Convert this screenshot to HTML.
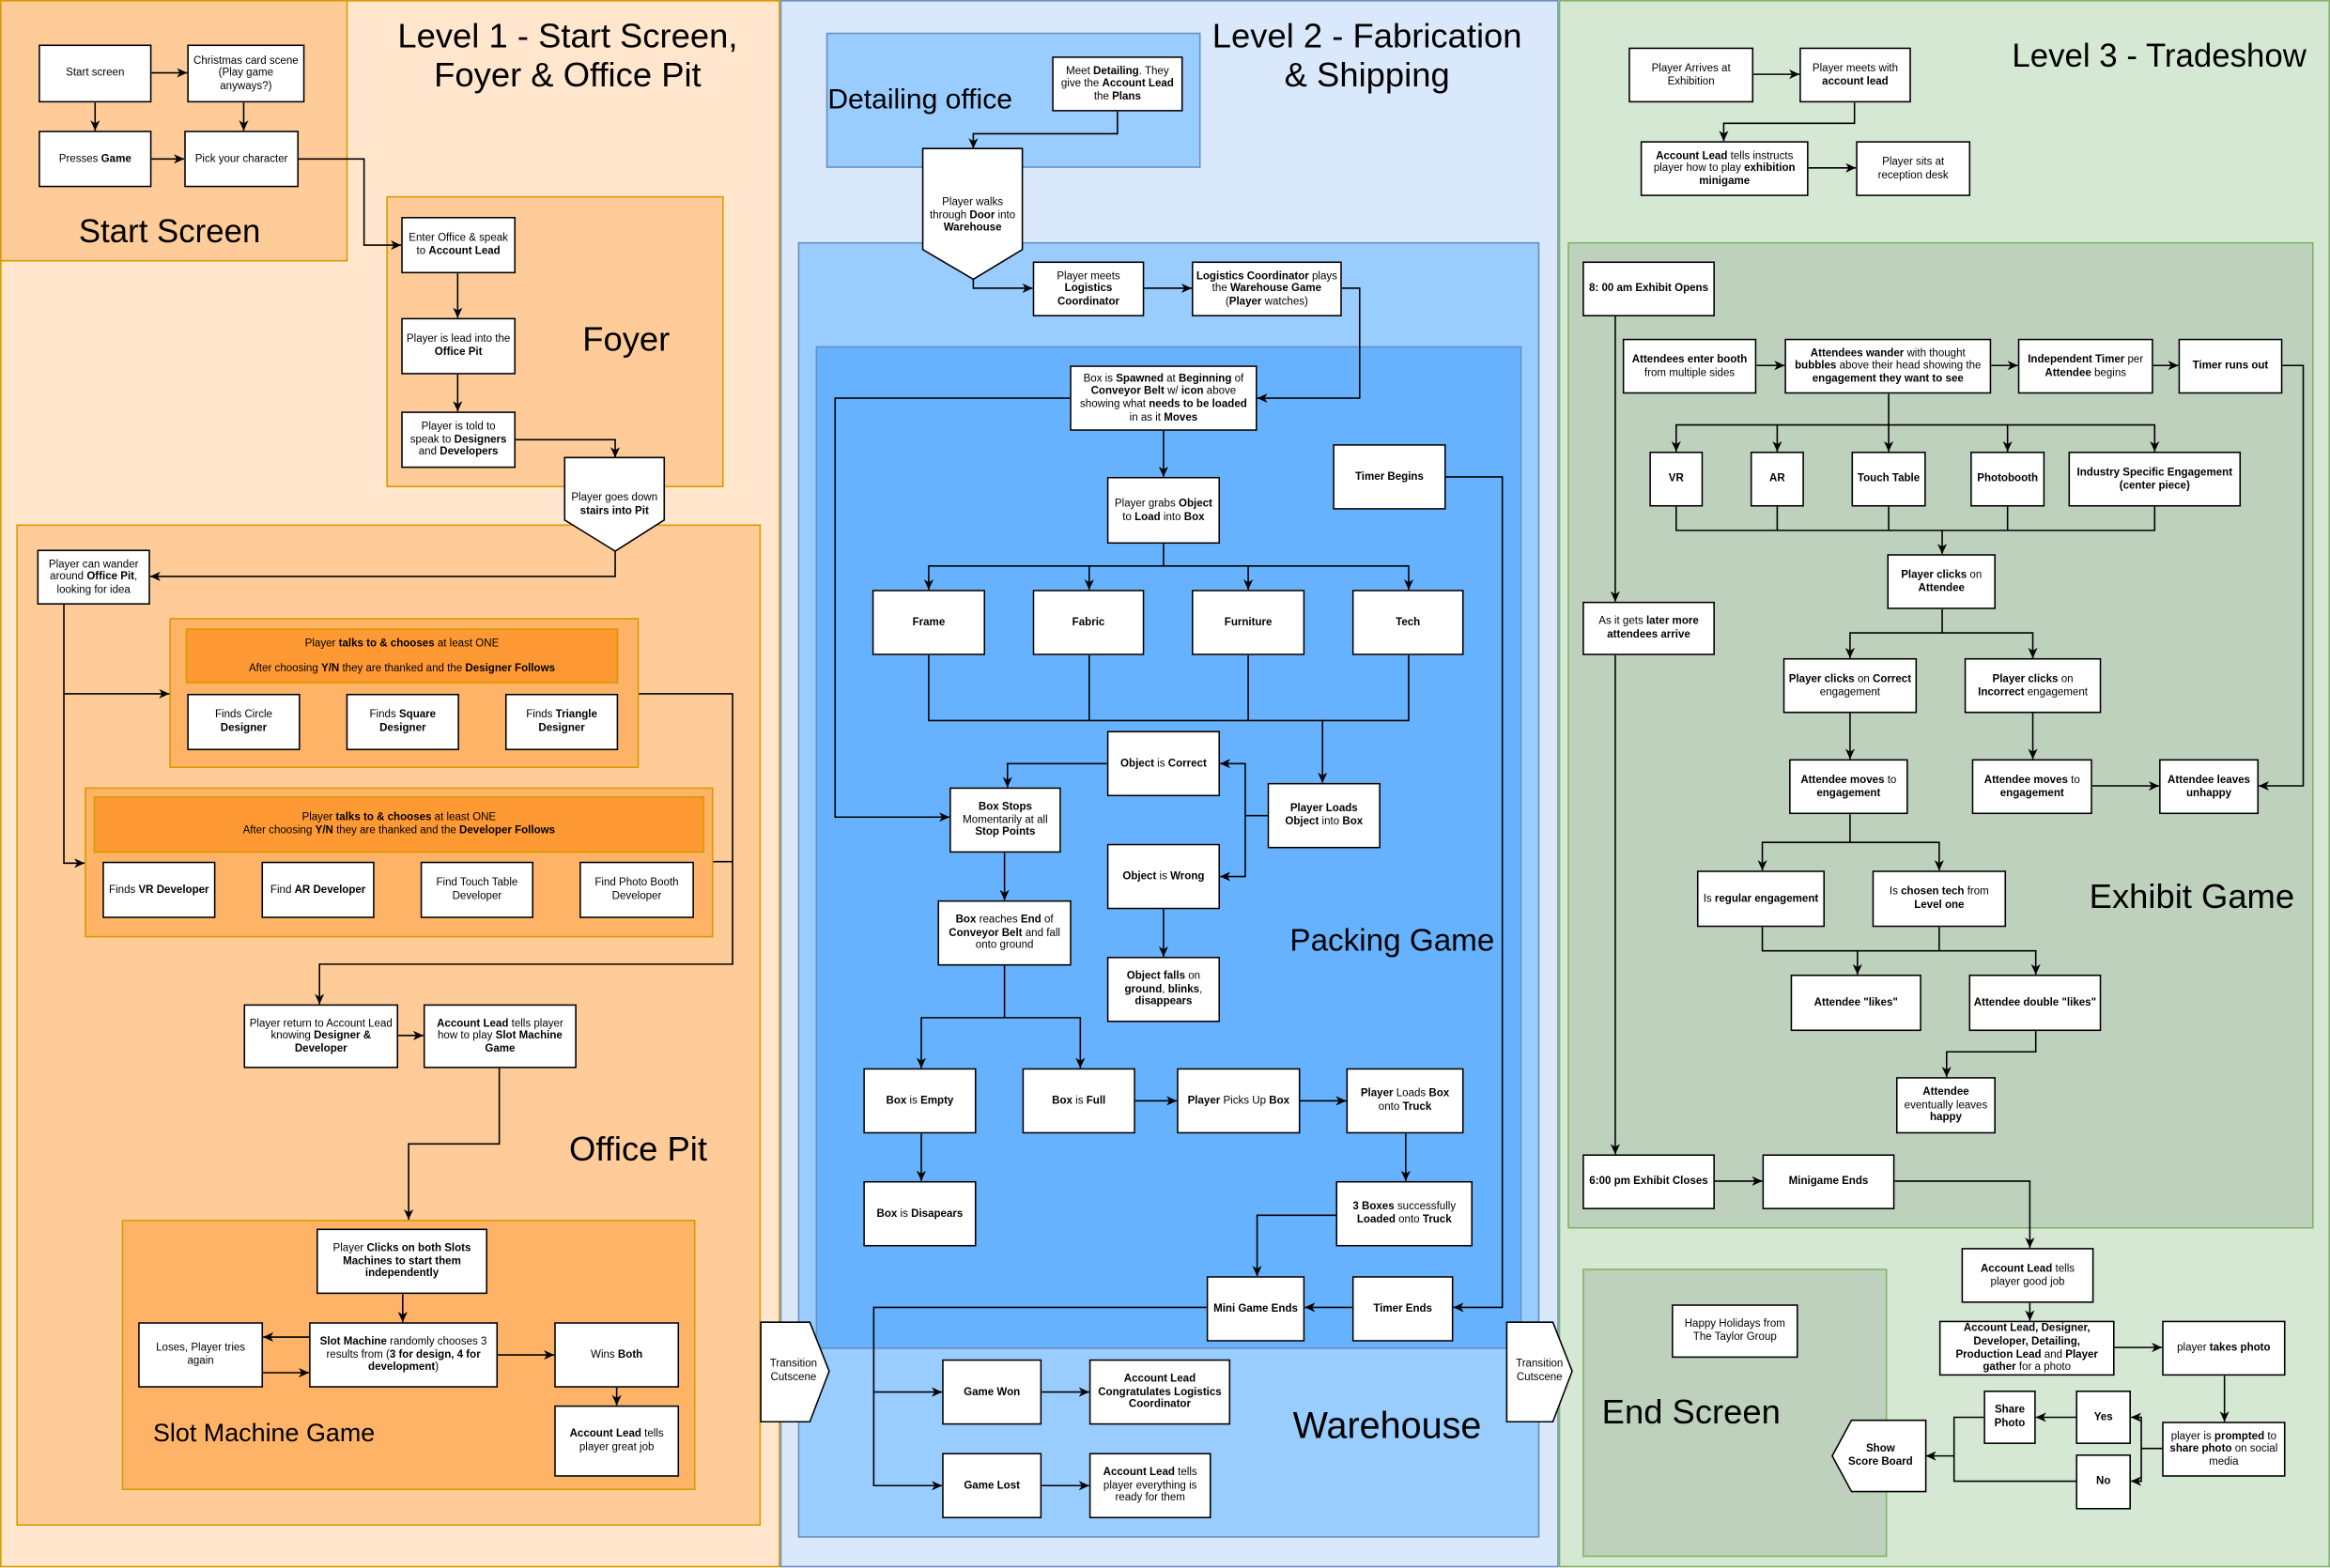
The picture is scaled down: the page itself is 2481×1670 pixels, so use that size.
<!DOCTYPE html>
<html><head><meta charset="utf-8">
<style>
html,body{margin:0;padding:0;background:#fff;}
body{width:2481px;height:1670px;overflow:hidden;}
#c{position:absolute;left:0;top:0;width:1568px;height:1055px;transform:scale(1.58227);transform-origin:0 0;font-family:"Liberation Sans",sans-serif;}
.r{position:absolute;box-sizing:border-box;}
.b{position:absolute;box-sizing:border-box;background:#fff;border:1px solid #000;display:flex;align-items:center;justify-content:center;text-align:center;font-size:7.3px;line-height:1.18;padding:1px 2px;color:#000;}
.b>span,.tc>span{display:block;width:100%;}
.t{position:absolute;white-space:nowrap;color:#000;line-height:1.15;}
.tc{position:absolute;text-align:center;font-size:7.3px;line-height:1.18;display:flex;align-items:center;justify-content:center;}
b{font-weight:bold;}
svg{position:absolute;left:0;top:0;}
</style></head><body><div id="c">
<div class="r" style="left:0;top:0;width:525px;height:1055px;background:#ffe6cc;border:1px solid #d79b00"></div>
<div class="r" style="left:525px;top:0;width:524px;height:1055px;background:#dae8fc;border:1px solid #6c8ebf"></div>
<div class="r" style="left:1049px;top:0;width:519px;height:1055px;background:#d5e8d4;border:1px solid #82b366"></div>

<div class="r" style="left:0;top:0;width:234px;height:176px;background:#ffcc99;border:1px solid #d79b00"></div>
<div class="r" style="left:260px;top:132px;width:227px;height:196px;background:#ffcc99;border:1px solid #d79b00"></div>
<div class="r" style="left:11px;top:353px;width:501px;height:674px;background:#ffcc99;border:1px solid #d79b00"></div>
<div class="r" style="left:114px;top:416px;width:316px;height:101px;background:#ffb366;border:1px solid #d79b00"></div>
<div class="r" style="left:125px;top:423px;width:291px;height:37px;background:#ff9933;border:1px solid #d79b00"></div>
<div class="r" style="left:57px;top:530px;width:423px;height:101px;background:#ffb366;border:1px solid #d79b00"></div>
<div class="r" style="left:63px;top:536px;width:411px;height:38px;background:#ff9933;border:1px solid #d79b00"></div>
<div class="r" style="left:82px;top:821px;width:386px;height:182px;background:#ffb366;border:1px solid #d79b00"></div>

<div class="r" style="left:556px;top:22px;width:252px;height:91px;background:#99ccff;border:1px solid #6c8ebf"></div>
<div class="r" style="left:537px;top:163px;width:499px;height:872px;background:#99ccff;border:1px solid #6c8ebf"></div>
<div class="r" style="left:549px;top:233px;width:475px;height:675px;background:#66b2ff;border:1px solid #6c8ebf"></div>

<div class="r" style="left:1055px;top:163px;width:502px;height:664px;background:#bdd1bc;border:1px solid #82b366"></div>
<div class="r" style="left:1065px;top:854px;width:205px;height:194px;background:#bdd1bc;border:1px solid #82b366"></div>

<div class="t" style="left:240px;top:11px;width:284px;text-align:center;font-size:23px;">Level 1 - Start Screen,<br>Foyer &amp; Office Pit</div>
<div class="t" style="left:800px;top:11px;width:240px;text-align:center;font-size:23px;">Level 2 - Fabrication<br>&amp; Shipping</div>
<div class="t" style="left:1354px;top:25px;font-size:22px;">Level 3 - Tradeshow</div>
<div class="t" style="left:53px;top:143px;font-size:22px;">Start Screen</div>
<div class="t" style="left:392px;top:215px;font-size:23px;">Foyer</div>
<div class="t" style="left:383px;top:760px;font-size:23px;">Office Pit</div>
<div class="t" style="left:103px;top:955px;font-size:17px;">Slot Machine Game</div>
<div class="t" style="left:557px;top:57px;font-size:19px;">Detailing office</div>
<div class="t" style="left:868px;top:622px;font-size:21px;">Packing Game</div>
<div class="t" style="left:870px;top:946px;font-size:25px;">Warehouse</div>
<div class="t" style="left:1406px;top:590px;font-size:23px;">Exhibit Game</div>
<div class="t" style="left:1078px;top:937px;font-size:23px;">End Screen</div>

<svg width="1568" height="1055" viewBox="0 0 1568 1055">
<defs><marker id="a" markerWidth="8" markerHeight="8" refX="7" refY="4" orient="auto" markerUnits="userSpaceOnUse"><path d="M0,0.8 L7,4 L0,7.2 L2,4 Z" fill="#000"/></marker></defs>
<g fill="none" stroke="#000" stroke-width="1" marker-end="url(#a)">
<polyline points="64,69 64,88"/><polyline points="102,49 126,49"/><polyline points="164,69 164,88"/><polyline points="102,107 124,107"/>
<polyline points="201,107 245,107 245,165 270,165"/><polyline points="308,184 308,214"/><polyline points="308,252 308,277"/>
<polyline points="347,296 414,296 414,308"/><polyline points="414,371 414,388 101,388"/>
<polyline points="43,407 43,581 57,581"/><polyline points="43,467 114,467"/>
<polyline points="430,467 493,467 493,649 215,649 215,676"/><polyline points="480,580 493,580" marker-end="none"/>
<polyline points="268,697 285,697"/><polyline points="336,719 336,770 275,770 275,821"/>
<polyline points="271,871 271,890"/><polyline points="208,900 177,900"/><polyline points="177,924 208,924"/>
<polyline points="335,912 373,912"/><polyline points="415,934 415,946"/>

<polyline points="752,75 752,90 655,90 655,100"/><polyline points="655,188 655,194 695,194"/><polyline points="770,194 802,194"/>
<polyline points="903,194 915,194 915,268 846,268"/><polyline points="783,290 783,321"/>
<polyline points="720,268 562,268 562,550 639,550"/>
<polyline points="783,366 783,381 625,381 625,397"/><polyline points="733,381 733,397"/><polyline points="783,381 840,381 840,397"/><polyline points="840,381 948,381 948,397"/>
<polyline points="625,441 625,485 890,485 890,527"/><polyline points="733,441 733,485" marker-end="none"/><polyline points="840,441 840,485" marker-end="none"/><polyline points="948,441 948,485 890,485" marker-end="none"/>
<polyline points="853,549 838,549 838,514 821,514"/><polyline points="838,549 838,590 821,590"/>
<polyline points="745,514 678,514 678,530"/><polyline points="676,574 676,606"/><polyline points="783,612 783,644"/>
<polyline points="676,650 676,685 620,685 620,719"/><polyline points="676,685 727,685 727,719"/>
<polyline points="620,763 620,795"/><polyline points="764,741 792,741"/><polyline points="875,741 906,741"/>
<polyline points="946,763 946,795"/><polyline points="899,818 846,818 846,859"/>
<polyline points="973,321 1011,321 1011,880 978,880"/><polyline points="910,880 878,880"/>
<polyline points="812,880 588,880 588,937 634,937"/><polyline points="588,937 588,1000 634,1000"/>
<polyline points="701,937 733,937"/><polyline points="701,1000 733,1000"/>

<polyline points="1180,50 1211,50"/><polyline points="1248,69 1248,83 1160,83 1160,95"/><polyline points="1217,113 1249,113"/>
<polyline points="1087,213 1087,405"/><polyline points="1182,246 1201,246"/><polyline points="1340,246 1358,246"/><polyline points="1449,246 1466,246"/>
<polyline points="1536,246 1550,246 1550,529 1520,529"/>
<polyline points="1271,265 1271,286 1128,286 1128,304"/><polyline points="1196,286 1196,304"/><polyline points="1271,286 1271,304"/><polyline points="1271,286 1351,286 1351,304"/><polyline points="1351,286 1450,286 1450,304"/>
<polyline points="1128,341 1128,357 1450,357 1450,341" marker-end="none"/><polyline points="1196,341 1196,357" marker-end="none"/><polyline points="1271,341 1271,357" marker-end="none"/><polyline points="1351,341 1351,357" marker-end="none"/>
<polyline points="1307,357 1307,373"/>
<polyline points="1087,441 1087,777"/>
<polyline points="1307,410 1307,426 1245,426 1245,443"/><polyline points="1307,426 1368,426 1368,443"/>
<polyline points="1245,480 1245,511"/><polyline points="1368,480 1368,511"/><polyline points="1408,529 1453,529"/>
<polyline points="1245,548 1245,567 1186,567 1186,586"/><polyline points="1245,567 1305,567 1305,586"/>
<polyline points="1186,624 1186,640 1250,640 1250,656"/><polyline points="1305,624 1305,640 1370,640 1370,656"/><polyline points="1305,640 1250,640" marker-end="none"/>
<polyline points="1370,694 1370,708 1310,708 1310,725"/>
<polyline points="1154,795 1186,795"/><polyline points="1275,795 1366,795 1366,840"/><polyline points="1366,877 1366,889"/>
<polyline points="1423,907 1455,907"/><polyline points="1497,926 1497,957"/>
<polyline points="1455,975 1441,975 1441,954 1434,954"/><polyline points="1441,975 1441,997 1434,997"/>
<polyline points="1397,954 1370,954"/>
<polyline points="1335,954 1315,954 1315,980 1296,980"/><polyline points="1397,997 1315,997 1315,980" marker-end="none"/>
</g>
<g fill="#fff" stroke="#000" stroke-width="1">
<polygon points="380,308 447,308 447,350 414,371 380,350"/>
<polygon points="621,100 688,100 688,168 655,188 621,168"/>
<polygon points="512,890 545,890 558,923 545,957 512,957"/>
<polygon points="1014,890 1045,890 1058,923 1045,957 1014,957"/>
<polygon points="1246,956 1296,956 1296,1004 1246,1004 1233,980"/>
</g>
</svg>

<div class="tc" style="left:382px;top:325px;width:63px;height:30px;"><span>Player goes down <b>stairs into Pit</b></span></div>
<div class="tc" style="left:622px;top:125px;width:65px;height:40px;"><span>Player walks through <b>Door</b> into <b>Warehouse</b></span></div>
<div class="tc" style="left:512px;top:905px;width:44px;height:36px;"><span>Transition Cutscene</span></div>
<div class="tc" style="left:1014px;top:905px;width:44px;height:36px;"><span>Transition Cutscene</span></div>
<div class="tc" style="left:1238px;top:960px;width:55px;height:40px;"><span><b>Show<br>Score Board</b></span></div>

<div class="b" style="left:26px;top:30px;width:76px;height:39px;"><span>Start screen</span></div>
<div class="b" style="left:126px;top:30px;width:79px;height:39px;"><span>Christmas card scene (Play game anyways?)</span></div>
<div class="b" style="left:26px;top:88px;width:76px;height:38px;"><span>Presses <b>Game</b></span></div>
<div class="b" style="left:124px;top:88px;width:77px;height:38px;"><span>Pick your character</span></div>
<div class="b" style="left:270px;top:146px;width:77px;height:38px;"><span>Enter Office &amp; speak to <b>Account Lead</b></span></div>
<div class="b" style="left:270px;top:214px;width:77px;height:38px;"><span>Player is lead into the <b>Office Pit</b></span></div>
<div class="b" style="left:270px;top:277px;width:77px;height:38px;"><span>Player is told to speak to <b>Designers</b> and <b>Developers</b></span></div>
<div class="b" style="left:25px;top:370px;width:76px;height:37px;"><span>Player can wander around <b>Office Pit</b>, looking for idea</span></div>
<div class="tc" style="left:125px;top:423px;width:291px;height:37px;"><span>Player <b>talks to &amp; chooses</b> at least ONE<br><br>After choosing <b>Y/N</b> they are thanked and the <b>Designer Follows</b></span></div>
<div class="b" style="left:126px;top:467px;width:76px;height:38px;"><span>Finds Circle <b>Designer</b></span></div>
<div class="b" style="left:233px;top:467px;width:76px;height:38px;"><span>Finds <b>Square Designer</b></span></div>
<div class="b" style="left:340px;top:467px;width:76px;height:38px;"><span>Finds <b>Triangle Designer</b></span></div>
<div class="tc" style="left:63px;top:536px;width:411px;height:38px;"><span>Player <b>talks to &amp; chooses</b> at least ONE<br>After choosing <b>Y/N</b> they are thanked and the <b>Developer Follows</b></span></div>
<div class="b" style="left:69px;top:580px;width:76px;height:38px;"><span>Finds <b>VR Developer</b></span></div>
<div class="b" style="left:176px;top:580px;width:76px;height:38px;"><span>Find <b>AR Developer</b></span></div>
<div class="b" style="left:283px;top:580px;width:76px;height:38px;"><span>Find Touch Table Developer</span></div>
<div class="b" style="left:390px;top:580px;width:77px;height:38px;"><span>Find Photo Booth Developer</span></div>
<div class="b" style="left:164px;top:676px;width:104px;height:43px;"><span>Player return to Account Lead knowing <b>Designer &amp; Developer</b></span></div>
<div class="b" style="left:285px;top:676px;width:103px;height:43px;"><span><b>Account Lead</b> tells player how to play <b>Slot Machine Game</b></span></div>
<div class="b" style="left:213px;top:827px;width:115px;height:44px;"><span>Player <b>Clicks on both Slots Machines to start them independently</b></span></div>
<div class="b" style="left:93px;top:890px;width:84px;height:44px;"><span>Loses, Player tries again</span></div>
<div class="b" style="left:208px;top:890px;width:127px;height:44px;"><span><b>Slot Machine</b> randomly chooses 3 results from (<b>3 for design, 4 for development</b>)</span></div>
<div class="b" style="left:373px;top:890px;width:84px;height:44px;"><span>Wins <b>Both</b></span></div>
<div class="b" style="left:373px;top:946px;width:84px;height:48px;"><span><b>Account Lead</b> tells player great job</span></div>

<div class="b" style="left:708px;top:38px;width:88px;height:37px;"><span>Meet <b>Detailing</b>. They give the <b>Account Lead</b> the <b>Plans</b></span></div>
<div class="b" style="left:695px;top:176px;width:75px;height:37px;"><span>Player meets <b>Logistics Coordinator</b></span></div>
<div class="b" style="left:802px;top:176px;width:101px;height:37px;"><span><b>Logistics Coordinator</b> plays the <b>Warehouse Game</b> (<b>Player</b> watches)</span></div>
<div class="b" style="left:720px;top:246px;width:126px;height:44px;"><span>Box is <b>Spawned</b> at <b>Beginning</b> of <b>Conveyor Belt</b> w/ <b>icon</b> above showing what <b>needs to be loaded</b> in as it <b>Moves</b></span></div>
<div class="b" style="left:745px;top:321px;width:76px;height:45px;"><span>Player grabs <b>Object</b> to <b>Load</b> into <b>Box</b></span></div>
<div class="b" style="left:897px;top:299px;width:76px;height:44px;"><span><b>Timer Begins</b></span></div>
<div class="b" style="left:587px;top:397px;width:76px;height:44px;"><span><b>Frame</b></span></div>
<div class="b" style="left:695px;top:397px;width:75px;height:44px;"><span><b>Fabric</b></span></div>
<div class="b" style="left:802px;top:397px;width:76px;height:44px;"><span><b>Furniture</b></span></div>
<div class="b" style="left:910px;top:397px;width:75px;height:44px;"><span><b>Tech</b></span></div>
<div class="b" style="left:745px;top:492px;width:76px;height:44px;"><span><b>Object</b> is <b>Correct</b></span></div>
<div class="b" style="left:853px;top:527px;width:76px;height:44px;"><span><b>Player Loads Object</b> into <b>Box</b></span></div>
<div class="b" style="left:639px;top:530px;width:75px;height:44px;"><span><b>Box Stops</b> Momentarily at all <b>Stop Points</b></span></div>
<div class="b" style="left:745px;top:568px;width:76px;height:44px;"><span><b>Object</b> is <b>Wrong</b></span></div>
<div class="b" style="left:631px;top:606px;width:90px;height:44px;"><span><b>Box</b> reaches <b>End</b> of <b>Conveyor Belt</b> and fall onto ground</span></div>
<div class="b" style="left:745px;top:644px;width:76px;height:44px;"><span><b>Object falls</b> on <b>ground</b>, <b>blinks</b>, <b>disappears</b></span></div>
<div class="b" style="left:581px;top:719px;width:76px;height:44px;"><span><b>Box</b> is <b>Empty</b></span></div>
<div class="b" style="left:688px;top:719px;width:76px;height:44px;"><span><b>Box</b> is <b>Full</b></span></div>
<div class="b" style="left:792px;top:719px;width:83px;height:44px;"><span><b>Player</b> Picks Up <b>Box</b></span></div>
<div class="b" style="left:906px;top:719px;width:79px;height:44px;"><span><b>Player</b> Loads <b>Box</b> onto <b>Truck</b></span></div>
<div class="b" style="left:581px;top:795px;width:76px;height:44px;"><span><b>Box</b> is <b>Disapears</b></span></div>
<div class="b" style="left:899px;top:795px;width:92px;height:44px;"><span><b>3 Boxes</b> successfully <b>Loaded</b> onto <b>Truck</b></span></div>
<div class="b" style="left:812px;top:859px;width:66px;height:44px;"><span><b>Mini Game Ends</b></span></div>
<div class="b" style="left:910px;top:859px;width:68px;height:44px;"><span><b>Timer Ends</b></span></div>
<div class="b" style="left:634px;top:915px;width:67px;height:44px;"><span><b>Game Won</b></span></div>
<div class="b" style="left:733px;top:915px;width:95px;height:44px;"><span><b>Account Lead Congratulates Logistics Coordinator</b></span></div>
<div class="b" style="left:634px;top:978px;width:67px;height:44px;"><span><b>Game Lost</b></span></div>
<div class="b" style="left:733px;top:978px;width:82px;height:44px;"><span><b>Account Lead</b> tells player everything is ready for them</span></div>

<div class="b" style="left:1096px;top:32px;width:84px;height:37px;"><span>Player Arrives at Exhibition</span></div>
<div class="b" style="left:1211px;top:32px;width:75px;height:37px;"><span>Player meets with <b>account lead</b></span></div>
<div class="b" style="left:1104px;top:95px;width:113px;height:37px;"><span><b>Account Lead</b> tells instructs player how to play <b>exhibition minigame</b></span></div>
<div class="b" style="left:1249px;top:95px;width:77px;height:37px;"><span>Player sits at reception desk</span></div>
<div class="b" style="left:1065px;top:176px;width:89px;height:37px;"><span><b>8: 00 am Exhibit Opens</b></span></div>
<div class="b" style="left:1092px;top:228px;width:90px;height:37px;"><span><b>Attendees enter booth</b> from multiple sides</span></div>
<div class="b" style="left:1201px;top:228px;width:139px;height:37px;"><span><b>Attendees wander</b> with thought <b>bubbles</b> above their head showing the <b>engagement they want to see</b></span></div>
<div class="b" style="left:1358px;top:228px;width:91px;height:37px;"><span><b>Independent Timer</b> per <b>Attendee</b> begins</span></div>
<div class="b" style="left:1466px;top:228px;width:70px;height:37px;"><span><b>Timer runs out</b></span></div>
<div class="b" style="left:1110px;top:304px;width:36px;height:37px;"><span><b>VR</b></span></div>
<div class="b" style="left:1178px;top:304px;width:36px;height:37px;"><span><b>AR</b></span></div>
<div class="b" style="left:1246px;top:304px;width:50px;height:37px;"><span><b>Touch Table</b></span></div>
<div class="b" style="left:1326px;top:304px;width:50px;height:37px;"><span><b>Photobooth</b></span></div>
<div class="b" style="left:1392px;top:304px;width:116px;height:37px;"><span><b>Industry Specific Engagement (center piece)</b></span></div>
<div class="b" style="left:1270px;top:373px;width:73px;height:37px;"><span><b>Player clicks</b> on <b>Attendee</b></span></div>
<div class="b" style="left:1065px;top:405px;width:89px;height:36px;"><span>As it gets <b>later more attendees arrive</b></span></div>
<div class="b" style="left:1200px;top:443px;width:90px;height:37px;"><span><b>Player clicks</b> on <b>Correct</b> engagement</span></div>
<div class="b" style="left:1322px;top:443px;width:92px;height:37px;"><span><b>Player clicks</b> on <b>Incorrect</b> engagement</span></div>
<div class="b" style="left:1204px;top:511px;width:80px;height:37px;"><span><b>Attendee moves</b> to <b>engagement</b></span></div>
<div class="b" style="left:1327px;top:511px;width:81px;height:37px;"><span><b>Attendee moves</b> to <b>engagement</b></span></div>
<div class="b" style="left:1453px;top:511px;width:67px;height:37px;"><span><b>Attendee leaves unhappy</b></span></div>
<div class="b" style="left:1142px;top:586px;width:86px;height:38px;"><span>Is <b>regular engagement</b></span></div>
<div class="b" style="left:1260px;top:586px;width:90px;height:38px;"><span>Is <b>chosen tech</b> from <b>Level one</b></span></div>
<div class="b" style="left:1205px;top:656px;width:88px;height:38px;"><span><b>Attendee "likes"</b></span></div>
<div class="b" style="left:1325px;top:656px;width:89px;height:38px;"><span><b>Attendee double "likes"</b></span></div>
<div class="b" style="left:1276px;top:725px;width:67px;height:38px;"><span><b>Attendee</b> eventually leaves <b>happy</b></span></div>
<div class="b" style="left:1065px;top:777px;width:89px;height:37px;"><span><b>6:00 pm Exhibit Closes</b></span></div>
<div class="b" style="left:1186px;top:777px;width:89px;height:37px;"><span><b>Minigame Ends</b></span></div>
<div class="b" style="left:1125px;top:878px;width:85px;height:36px;"><span>Happy Holidays from The Taylor Group</span></div>
<div class="b" style="left:1320px;top:840px;width:89px;height:37px;"><span><b>Account Lead</b> tells player good job</span></div>
<div class="b" style="left:1305px;top:889px;width:118px;height:37px;"><span><b>Account Lead, Designer, Developer, Detailing, Production Lead</b> and <b>Player gather</b> for a photo</span></div>
<div class="b" style="left:1455px;top:889px;width:83px;height:37px;"><span>player <b>takes photo</b></span></div>
<div class="b" style="left:1455px;top:957px;width:83px;height:37px;"><span>player is <b>prompted</b> to <b>share photo</b> on social media</span></div>
<div class="b" style="left:1397px;top:936px;width:37px;height:36px;"><span><b>Yes</b></span></div>
<div class="b" style="left:1397px;top:979px;width:37px;height:37px;"><span><b>No</b></span></div>
<div class="b" style="left:1335px;top:936px;width:35px;height:36px;"><span><b>Share Photo</b></span></div>
</div></body></html>
